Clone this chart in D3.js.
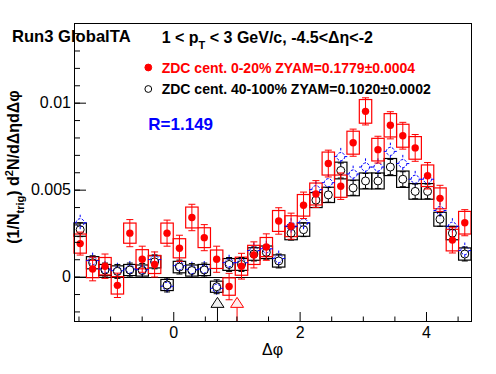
<!DOCTYPE html>
<html>
<head>
<meta charset="utf-8">
<script src="https://cdn.jsdelivr.net/npm/d3@7"></script>
<style>
  body { margin: 0; background: #fff; }
  text { font-family: "Liberation Sans", Arial, Helvetica, sans-serif; }
</style>
</head>
<body>
<svg width="496" height="374"></svg>
<script>
const width = 496;
const height = 374;
const frame = {left: 74, right: 471, top: 23, bottom: 321};

// bin centres in delta phi (32 bins over [-pi/2, 3pi/2])
const phi = [-1.473, -1.276, -1.080, -0.884, -0.687, -0.491, -0.295, -0.098,
  0.098, 0.295, 0.491, 0.687, 0.884, 1.080, 1.276, 1.473,
  1.669, 1.865, 2.062, 2.258, 2.454, 2.651, 2.847, 3.043,
  3.240, 3.436, 3.633, 3.829, 4.025, 4.222, 4.418, 4.614];

// ZDC cent. 0-20%
const central = [0.0019, 0.00044, 0.0006, -0.0005, 0.0025, 0.001, 0.0007, 0.0025,
  0.00163, 0.0034, 0.00224, 0.001, -0.00057, 0.0006, 0.00125, 0.0017,
  0.0032, 0.0029, 0.0041, 0.00475, 0.0065, 0.0052, 0.0077, 0.0095,
  0.0073, 0.0087, 0.0081, 0.0074, 0.0058, 0.0045, 0.0021, 0.0031];
const centralErr = [0.00066, 0.00068, 0.0007, 0.0007, 0.00078, 0.00075, 0.00072, 0.00075,
  0.00075, 0.00076, 0.00075, 0.00075, 0.00076, 0.00074, 0.00075, 0.00076,
  0.00076, 0.00075, 0.00076, 0.00077, 0.00077, 0.00076, 0.00078, 0.00078,
  0.00077, 0.00078, 0.00077, 0.00077, 0.00076, 0.00075, 0.00074, 0.00075];
const centralSys = [0.00055, 0.0005, 0.0005, 0.0005, 0.00058, 0.00055, 0.00052, 0.00058,
  0.00055, 0.0006, 0.00057, 0.00053, 0.0005, 0.00052, 0.00055, 0.00055,
  0.0006, 0.0006, 0.00062, 0.00063, 0.00066, 0.00064, 0.00066, 0.00068,
  0.00065, 0.00067, 0.00066, 0.00065, 0.00062, 0.0006, 0.00062, 0.00065];

// ZDC cent. 40-100%
const peripheral = [0.0027, 0.0008, 0.00038, 0.0003, 0.00038, 0.00035, 0.00085, -0.00048,
  0.00055, 0.00035, 0.00038, -0.00058, 0.0007, 0.0007, 0.0013, 0.0014,
  0.0009, 0.0025, 0.0027, 0.0044, 0.0047, 0.0061, 0.0051, 0.0055,
  0.0055, 0.0063, 0.0056, 0.0049, 0.0049, 0.0033, 0.0025, 0.0013];
const peripheralErr = [0.0004, 0.0004, 0.0004, 0.0004, 0.0004, 0.0004, 0.0004, 0.0004,
  0.0004, 0.0004, 0.0004, 0.0004, 0.0004, 0.0004, 0.0004, 0.0004,
  0.0004, 0.0004, 0.0004, 0.00042, 0.00042, 0.00043, 0.00042, 0.00043,
  0.00043, 0.00044, 0.00043, 0.00042, 0.00042, 0.00041, 0.0004, 0.0004];
const peripheralSys = [0.00038, 0.00035, 0.00032, 0.00032, 0.00032, 0.00032, 0.00035, 0.00032,
  0.00033, 0.00032, 0.00032, 0.00032, 0.00034, 0.00034, 0.00036, 0.00036,
  0.00035, 0.00038, 0.00038, 0.00043, 0.00044, 0.00048, 0.00045, 0.00046,
  0.00046, 0.00049, 0.00047, 0.00045, 0.00045, 0.0004, 0.00038, 0.00035];

// 40-100% scaled by R
const scaled = [0.0031, 0.00092, 0.00044, 0.00034, 0.00044, 0.0004, 0.00098, -0.00055,
  0.00063, 0.0004, 0.00044, -0.00067, 0.0008, 0.0008, 0.0015, 0.0016,
  0.00104, 0.0029, 0.0031, 0.005, 0.0054, 0.0069, 0.0059, 0.0063,
  0.0063, 0.0072, 0.0065, 0.0056, 0.0056, 0.0038, 0.0029, 0.0015];
const scaledErr = [0.00046, 0.00046, 0.00046, 0.00046, 0.00046, 0.00046, 0.00046, 0.00046,
  0.00046, 0.00046, 0.00046, 0.00046, 0.00046, 0.00046, 0.00046, 0.00046,
  0.00046, 0.00046, 0.00046, 0.00048, 0.00048, 0.0005, 0.00048, 0.0005,
  0.0005, 0.0005, 0.0005, 0.00048, 0.00048, 0.00047, 0.00046, 0.00046];

// ZYAM minimum positions
const zyamPhi = [0.70, 1.01];
const zyamLevel = -0.00145;
const zyamColors = ['#000', '#ff0000'];

const legendLabels = ['ZDC cent. 0-20% ZYAM=0.1779\u00b10.0004',
  'ZDC cent. 40-100% ZYAM=0.1020\u00b10.0002'];
const ratioLabel = 'R=1.149';

const xMajor = [0, 2, 4];
const xMinor = [-1.5, -1, -0.5, 0.5, 1, 1.5, 2.5, 3, 3.5, 4.5];
const yMajor = [0, 0.005, 0.01];
const yMinor = d3.range(-2, 15).map(d => d / 1000);

const halfBin = Math.PI / 32;

const x = d3.scaleLinear().domain([-Math.PI / 2, 3 * Math.PI / 2])
    .range([frame.left, frame.right]);
const y = d3.scaleLinear().domain([-0.00255, 0.01458])
    .range([frame.bottom, frame.top]);

const svg = d3.select('svg');

const rows = (vals, err, sys) => phi.map((p, i) => ({p, v: vals[i], e: err ? err[i] : 0, s: sys ? sys[i] : 0}));
const dataC = rows(central, centralErr, centralSys);
const dataP = rows(peripheral, peripheralErr, peripheralSys);
const dataS = rows(scaled, scaledErr);

// zero line
svg.append('line')
    .attr('x1', frame.left).attr('x2', frame.right)
    .attr('y1', Math.round(y(0)) + 0.5).attr('y2', Math.round(y(0)) + 0.5)
    .attr('stroke', '#000');

// systematic boxes
function boxes(data, color) {
  svg.append('g')
      .attr('fill', 'none')
      .attr('stroke', color)
      .attr('stroke-width', 1.2)
      .selectAll('rect')
      .data(data)
      .join('rect')
      .attr('x', d => x(d.p - halfBin))
      .attr('width', d => x(d.p + halfBin) - x(d.p - halfBin))
      .attr('y', d => y(d.v + d.s))
      .attr('height', d => y(d.v - d.s) - y(d.v + d.s));
}
boxes(dataP, '#000');
boxes(dataC, '#ff0000');

// scaled peripheral (blue dashed open circles)
const r = 4;
const gs = svg.append('g')
    .attr('stroke', '#0000ff')
    .attr('fill', 'none')
    .attr('stroke-dasharray', '2.5,1.5');
gs.selectAll('path.err')
    .data(dataS)
    .join('path')
    .attr('class', 'err')
    .attr('d', d => {
      const cx = x(d.p), cy = y(d.v);
      return `M${cx},${y(d.v + d.e)}V${cy - r}M${cx},${cy + r}V${y(d.v - d.e)}` +
          `M${cx - r - 2.5},${cy}H${cx - r}M${cx + r},${cy}H${cx + r + 2.5}`;
    });
gs.selectAll('circle')
    .data(dataS)
    .join('circle')
    .attr('cx', d => x(d.p))
    .attr('cy', d => y(d.v))
    .attr('r', r);

// error bars with end caps
function errorBars(g, data, rad, cap) {
  g.selectAll('path.err')
      .data(data)
      .join('path')
      .attr('class', 'err')
      .attr('d', d => {
        const cx = x(d.p), cy = y(d.v), yt = y(d.v + d.e), yb = y(d.v - d.e);
        let s = `M${cx - cap},${yt}H${cx + cap}M${cx - cap},${yb}H${cx + cap}`;
        if (cy - rad > yt) s += `M${cx},${yt}V${cy - rad}`;
        if (cy + rad < yb) s += `M${cx},${cy + rad}V${yb}`;
        return s;
      });
}

const gp = svg.append('g').attr('stroke', '#000').attr('fill', 'none');
errorBars(gp, dataP, r, 3);
gp.selectAll('circle')
    .data(dataP)
    .join('circle')
    .attr('cx', d => x(d.p))
    .attr('cy', d => y(d.v))
    .attr('r', r);

const gc = svg.append('g').attr('stroke', '#ff0000').attr('fill', 'none');
errorBars(gc, dataC, 0, 3.5);
gc.selectAll('circle')
    .data(dataC)
    .join('circle')
    .attr('cx', d => x(d.p))
    .attr('cy', d => y(d.v))
    .attr('r', 3.7)
    .attr('fill', '#ff0000')
    .attr('stroke', 'none');

// ZYAM minimum markers
const gz = svg.append('g');
gz.selectAll('line')
    .data(zyamPhi)
    .join('line')
    .attr('x1', d => x(d)).attr('x2', d => x(d))
    .attr('y1', y(zyamLevel) + 5.5).attr('y2', frame.bottom)
    .attr('stroke', (d, i) => zyamColors[i]);
gz.selectAll('path')
    .data(zyamPhi)
    .join('path')
    .attr('d', d => {
      const cx = x(d), cy = y(zyamLevel);
      return `M${cx},${cy - 4.5}L${cx + 6.5},${cy + 5.5}L${cx - 6.5},${cy + 5.5}Z`;
    })
    .attr('fill', (d, i) => i ? '#ffeeee' : '#f0f0f0')
    .attr('stroke', (d, i) => zyamColors[i]);

// axes
const yAxisMajor = g => g.attr('transform', `translate(${frame.left},0)`)
    .call(d3.axisLeft(y).tickValues(yMajor).tickSizeInner(-12).tickSizeOuter(0)
        .tickPadding(3).tickFormat(d => d === 0 ? '0' : d3.format('')(+d.toFixed(3))))
    .call(g => g.select('.domain').remove());
const yAxisMinor = g => g.attr('transform', `translate(${frame.left},0)`)
    .call(d3.axisLeft(y).tickValues(yMinor).tickSizeInner(-6).tickSizeOuter(0).tickFormat(''))
    .call(g => g.select('.domain').remove());
const xAxisMajor = g => g.attr('transform', `translate(0,${frame.bottom})`)
    .call(d3.axisBottom(x).tickValues(xMajor).tickSizeInner(-9).tickSizeOuter(0)
        .tickPadding(6).tickFormat(d3.format('d')))
    .call(g => g.select('.domain').remove());
const xAxisMinor = g => g.attr('transform', `translate(0,${frame.bottom})`)
    .call(d3.axisBottom(x).tickValues(xMinor).tickSizeInner(-4.5).tickSizeOuter(0).tickFormat(''))
    .call(g => g.select('.domain').remove());

[yAxisMajor, yAxisMinor, xAxisMajor, xAxisMinor].forEach(a => {
  svg.append('g').call(a)
      .call(g => g.selectAll('text')
          .attr('font-family', '"Liberation Sans", Arial, sans-serif')
          .attr('font-size', 16).attr('fill', '#000'))
      .call(g => g.selectAll('line').attr('stroke', '#000'));
});

svg.append('rect')
    .attr('x', frame.left + 0.5).attr('y', frame.top + 0.5)
    .attr('width', frame.right - frame.left).attr('height', frame.bottom - frame.top)
    .attr('fill', 'none').attr('stroke', '#000');

// axis titles
svg.append('text')
    .attr('x', (frame.left + frame.right) / 2).attr('y', 355)
    .attr('text-anchor', 'middle').attr('font-size', 16)
    .text('\u0394\u03c6');

const yt = svg.append('text')
    .attr('transform', 'translate(19,167) rotate(-90)')
    .attr('text-anchor', 'middle').attr('font-size', 16).attr('font-weight', 'bold');
yt.append('tspan').text('(1/N');
yt.append('tspan').attr('dy', 5).attr('font-size', 11).text('trig');
yt.append('tspan').attr('dy', -5).text(') d');
yt.append('tspan').attr('dy', -6).attr('font-size', 11).text('2');
yt.append('tspan').attr('dy', 6).text('N/d\u0394\u03b7d\u0394\u03c6');

// labels
svg.append('text')
    .attr('x', 12).attr('y', 41.7)
    .attr('font-size', 16.6).attr('font-weight', 'bold')
    .text('Run3 GlobalTA');

const title = svg.append('text')
    .attr('x', 161.7).attr('y', 42.5)
    .attr('font-size', 16).attr('font-weight', 'bold');
title.append('tspan').text('1 < p');
title.append('tspan').attr('dy', 6).attr('font-size', 11).text('T');
title.append('tspan').attr('dy', -6).text(' < 3 GeV/c, -4.5<\u0394\u03b7<-2');

// legend
const legendY = [72.5, 94];
const legendColors = ['#ff0000', '#000'];
legendLabels.forEach((t, i) => {
  svg.append('circle')
      .attr('cx', 148.3).attr('cy', legendY[i] - 5)
      .attr('r', 3.4)
      .attr('fill', i ? 'none' : '#ff0000')
      .attr('stroke', legendColors[i]);
  svg.append('text')
      .attr('x', 161.7).attr('y', legendY[i])
      .attr('font-size', 14).attr('font-weight', 'bold')
      .attr('fill', legendColors[i])
      .text(t);
});

svg.append('text')
    .attr('x', 148.3).attr('y', 130)
    .attr('font-size', 17).attr('font-weight', 'bold')
    .attr('fill', '#0000ff')
    .text(ratioLabel);
</script>
</body>
</html>
